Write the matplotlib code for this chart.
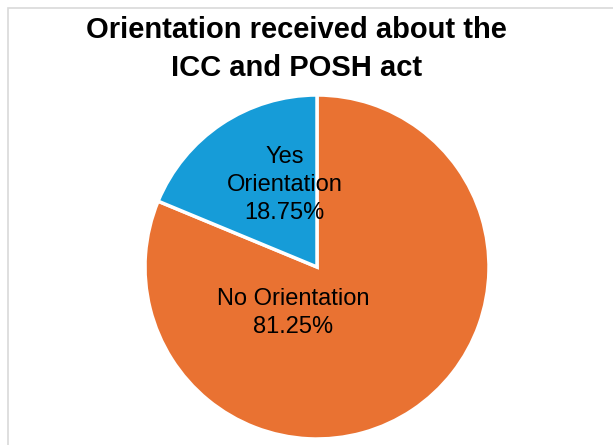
import matplotlib.pyplot as plt
from matplotlib.patches import Rectangle

plt.rcParams['font.family'] = ['Liberation Sans', 'DejaVu Sans']

labels = ["No Orientation", "Yes\nOrientation"]
shares = [81.25, 18.75]
colors = ["#E97232", "#169CD8"]
title = "Orientation received about the\nICC and POSH act"

W, H = 613, 445
fig = plt.figure(figsize=(W / 100, H / 100), dpi=100)

# chart border (only left and top visible in the crop)
fig.add_artist(Rectangle((8 / W, -0.1), 1.2, (H - 8) / H + 0.1,
                         transform=fig.transFigure, fill=False,
                         edgecolor="#D9D9D9", linewidth=1.2))

cx, cy, r = 317, 267, 172
ax = fig.add_axes([(cx - r) / W, (H - cy - r) / H, 2 * r / W, 2 * r / H])

wedges, texts = ax.pie(shares, colors=colors, startangle=90, counterclock=False,
                       labels=[f"{l}\n{s:.2f}%" for l, s in zip(labels, shares)],
                       labeldistance=0.5,
                       wedgeprops=dict(edgecolor="white", linewidth=2.5),
                       textprops=dict(fontsize=17, ha="center", va="center",
                                      linespacing=1.36))
ax.set_xlim(-1, 1)
ax.set_ylim(-1, 1)

# Excel's "best fit" label spots
texts[0].set_position((-0.14, -0.267))
texts[1].set_position((-0.189, 0.477))
for t in texts:
    t.set_ha("center")

fig.text(296.5 / W, 1 - 49 / H, title, ha="center", va="center",
         fontsize=21, fontweight="bold", linespacing=1.42)

fig.savefig("out.png", dpi=100)
